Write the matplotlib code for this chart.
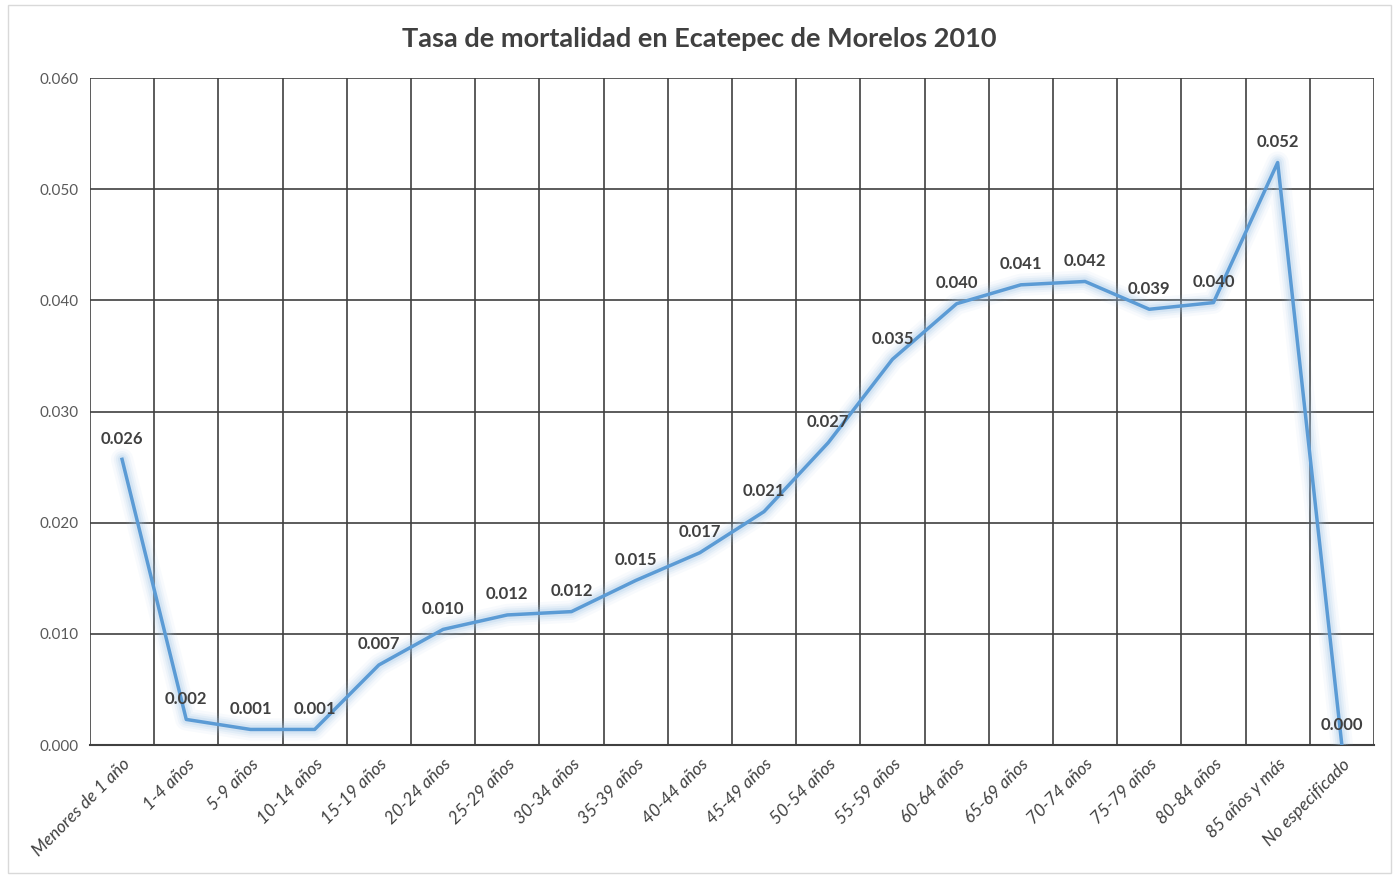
import numpy as np
import matplotlib
matplotlib.use("Agg")
import matplotlib.pyplot as plt
from matplotlib.patches import Rectangle

plt.rcParams['font.family'] = ['Lato', 'DejaVu Sans']

grupos = ["Menores de 1 año", "1-4 años", "5-9 años", "10-14 años", "15-19 años",
          "20-24 años", "25-29 años", "30-34 años", "35-39 años", "40-44 años",
          "45-49 años", "50-54 años", "55-59 años", "60-64 años", "65-69 años",
          "70-74 años", "75-79 años", "80-84 años", "85 años y más", "No especificado"]
tasa = [0.0257, 0.0023, 0.0014, 0.0014, 0.0072, 0.0104, 0.0117, 0.0120, 0.0148,
        0.0173, 0.0210, 0.0272, 0.0347, 0.0397, 0.0414, 0.0417, 0.0392, 0.0398,
        0.0524, 0.0000]
yticks = [0.0, 0.01, 0.02, 0.03, 0.04, 0.05, 0.06]

fig = plt.figure(figsize=(13.99, 8.77), dpi=100)
ax = fig.add_axes([0.0643, 0.1505, 0.9178, 0.7605])

# chart border
fig.patches.append(Rectangle((0.006, 0.004), 0.988, 0.99, transform=fig.transFigure,
                             fill=False, edgecolor="#d9d9d9", linewidth=1))

x = np.arange(len(grupos))
line_color = "#5b9bd5"

# glow
for lw, a in [(16, 0.07), (12, 0.10), (9, 0.14), (6, 0.2)]:
    ax.plot(x, tasa, color="#9dc3e6", linewidth=lw, alpha=a,
            solid_capstyle="round", solid_joinstyle="round", zorder=3)
ax.plot(x, tasa, color=line_color, linewidth=2.5, solid_joinstyle="round", zorder=4)

for xi, v in zip(x, tasa):
    ax.annotate(f"{v:.3f}", (xi, v), xytext=(0, 9), textcoords="offset points",
                ha="center", va="bottom", fontsize=12, fontweight="bold",
                color="#404040", zorder=5)

ax.set_xlim(-0.5, len(grupos) - 0.5)
ax.set_ylim(0, 0.06)
ax.set_yticks(yticks)
ax.set_yticklabels([f"{t:.3f}" for t in yticks], color="#595959", fontsize=11)

ax.set_xticks(x)
ax.set_xticklabels(grupos, rotation=45, ha="right", rotation_mode="anchor",
                   fontsize=12.5, color="#404040", style="italic")
ax.tick_params(axis="both", length=0, pad=8)

# vertical gridlines between categories
ax.set_xticks(np.arange(-0.5, len(grupos), 1), minor=True)
ax.grid(which="minor", axis="x", color="#404040", linewidth=1.2, zorder=1)
ax.grid(which="major", axis="y", color="#404040", linewidth=1.2, zorder=1)
ax.tick_params(which="minor", length=0)

for s in ["top", "right", "left"]:
    ax.spines[s].set_visible(False)
ax.spines["bottom"].set_color("#404040")
ax.spines["bottom"].set_linewidth(1.5)

fig.text(0.5, 0.955, "Tasa de mortalidad en Ecatepec de Morelos 2010", ha="center",
         va="center", fontsize=19.5, fontweight="bold", color="#404040")

fig.savefig("out.png", dpi=100, facecolor="white")
